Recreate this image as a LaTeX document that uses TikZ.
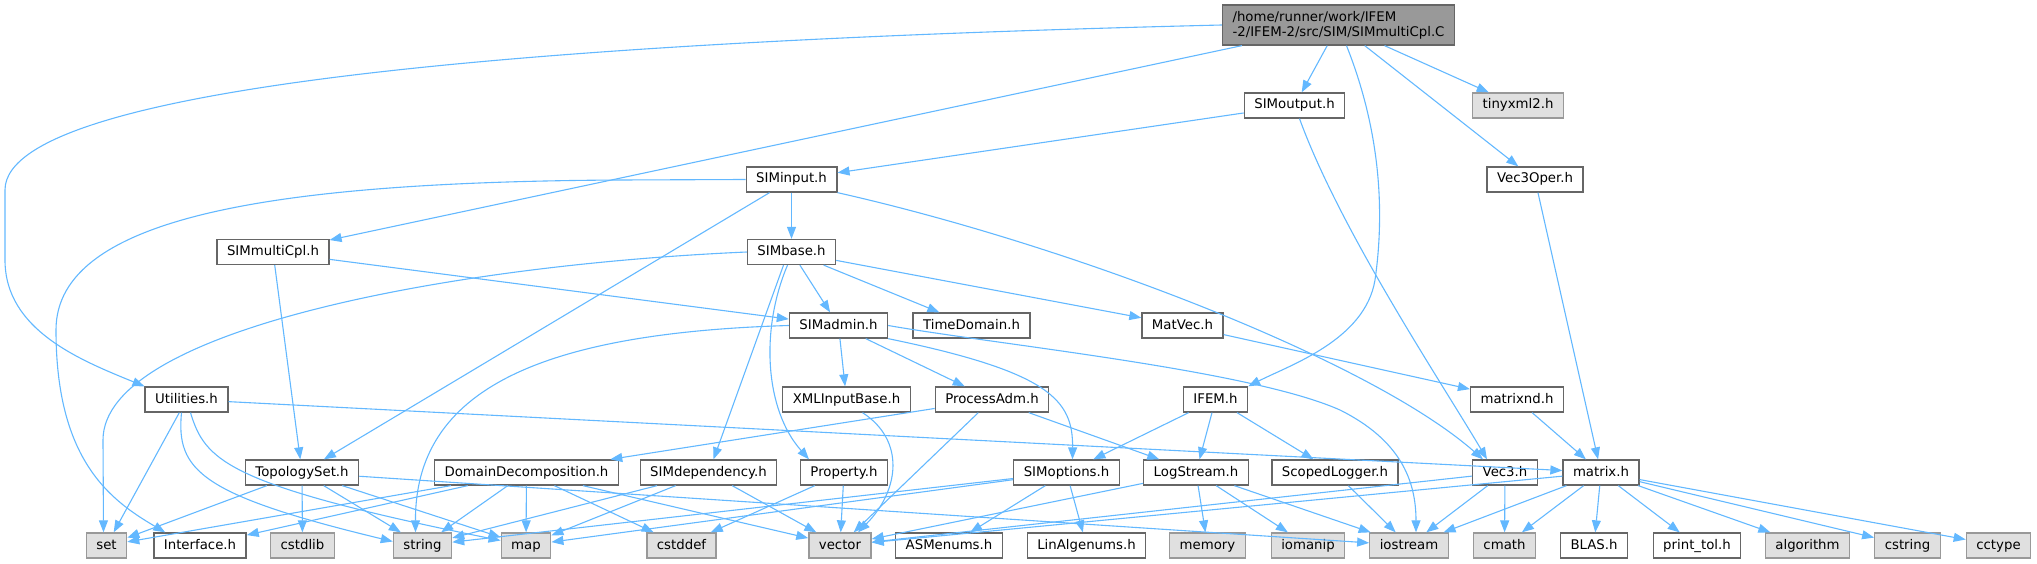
\documentclass[tikz,border=0pt]{standalone}
\usepackage{fontspec}
\setmainfont{DejaVu Sans}
\usetikzlibrary{arrows.meta}
\definecolor{edgeblue}{HTML}{63B8FF}
\definecolor{boxline}{HTML}{666666}
\definecolor{extline}{HTML}{999999}
\definecolor{extfill}{HTML}{E0E0E0}
\definecolor{mainfill}{HTML}{999999}
\tikzstyle{header}=[rectangle,draw=boxline,fill=white,line width=1.3pt,minimum height=25pt,inner xsep=10pt,inner ysep=0pt,text height=10pt,text depth=3pt,font=\fontsize{13.3}{16}\selectfont]
\tikzstyle{sysheader}=[header,draw=extline,fill=extfill]
\tikzstyle{mainfile}=[rectangle,draw=boxline,fill=mainfill,line width=1.3pt,minimum height=40pt,inner xsep=10pt,inner ysep=4pt,align=left,font=\fontsize{13.3}{15}\selectfont]
\tikzstyle{depedge}=[draw=edgeblue,line width=1.1pt,-{Triangle[length=12pt,width=9pt]}]

\begin{document}
\begin{tikzpicture}[x=1pt,y=-1pt]
    \useasboundingbox (0,0) rectangle (2037,564);

    % the file itself
    \node[mainfile] (title) at (1338.5,25) {/home/runner/work/IFEM\\-2/IFEM-2/src/SIM/SIMmultiCpl.C};

    % project headers
    \foreach \pos/ \name/ \lbl in {{(1294.5,105.5)/simoutput/SIMoutput.h}, {(791.5,179.5)/siminput/SIMinput.h},
        {(1535,179.5)/vecoper/Vec3Oper.h}, {(273,252)/simmulticpl/SIMmultiCpl.h}, {(791.5,252)/simbase/SIMbase.h},
        {(838.5,325.5)/simadmin/SIMadmin.h}, {(971.5,325.5)/timedomain/TimeDomain.h}, {(1182.5,325.5)/matvec/MatVec.h},
        {(186.5,399.5)/utilities/Utilities.h}, {(846.5,399.5)/xmlinputbase/XMLInputBase.h},
        {(992,399.5)/processadm/ProcessAdm.h}, {(1215.5,399.5)/ifem/IFEM.h}, {(1517,399.5)/matrixnd/matrixnd.h},
        {(302,472.5)/topologyset/TopologySet.h}, {(526.5,472.5)/domaindecomp/DomainDecomposition.h},
        {(708.5,472.5)/simdependency/SIMdependency.h}, {(844,472.5)/property/Property.h},
        {(1066.5,472.5)/simoptions/SIMoptions.h}, {(1196,472.5)/logstream/LogStream.h},
        {(1335,472.5)/scopedlogger/ScopedLogger.h}, {(1505,472.5)/vecthree/Vec3.h}, {(1601,472.5)/matrix/matrix.h},
        {(200,545.5)/interface/Interface.h}, {(949,545.5)/asmenums/ASMenums.h}, {(1086.5,545.5)/linalgenums/LinAlgenums.h},
        {(1594,545.5)/blas/BLAS.h}, {(1697,545.5)/printtol/print\_tol.h}}
        \node[header] (\name) at \pos {\lbl};

    % system headers
    \foreach \pos/ \name/ \lbl in {{(1518,105.5)/tinyxml/tinyxml2.h}, {(106.5,545.5)/set/set}, {(302.5,545.5)/cstdlib/cstdlib},
        {(422.5,545.5)/string/string}, {(526,545.5)/map/map}, {(681.5,545.5)/cstddef/cstddef}, {(840,545.5)/vector/vector},
        {(1207.5,545.5)/memory/memory}, {(1308,545.5)/iomanip/iomanip}, {(1409,545.5)/iostream/iostream},
        {(1504.5,545.5)/cmath/cmath}, {(1807.5,545.5)/algorithm/algorithm}, {(1907.5,545.5)/cstring/cstring},
        {(1998.5,545.5)/cctype/cctype}}
        \node[sysheader] (\name) at \pos {\lbl};

    % straight includes
    \foreach \source/ \dest in {title/simmulticpl, title/simoutput, title/vecoper, title/tinyxml,
        simoutput/siminput, siminput/simbase, siminput/topologyset,
        vecoper/matrix, simmulticpl/topologyset, simmulticpl/simadmin,
        simbase/simadmin, simbase/timedomain, simbase/matvec,
        simadmin/xmlinputbase, simadmin/processadm, matvec/matrixnd, matrixnd/matrix,
        processadm/domaindecomp, processadm/vector, processadm/logstream,
        ifem/simoptions, ifem/logstream, ifem/scopedlogger, utilities/set, utilities/matrix,
        topologyset/set, topologyset/cstdlib, topologyset/string, topologyset/map, topologyset/iostream,
        domaindecomp/set, domaindecomp/interface, domaindecomp/string, domaindecomp/map,
        domaindecomp/cstddef, domaindecomp/vector,
        simdependency/string, simdependency/map, simdependency/vector, property/cstddef, property/vector,
        simoptions/string, simoptions/map, simoptions/asmenums, simoptions/linalgenums,
        logstream/vector, logstream/memory, logstream/iomanip, logstream/iostream, scopedlogger/iostream,
        vecthree/vector, vecthree/iostream, vecthree/cmath,
        matrix/vector, matrix/iostream, matrix/cmath, matrix/blas, matrix/printtol,
        matrix/algorithm, matrix/cstring, matrix/cctype}
        \path[depedge] (\source) -- (\dest);

    % curved includes
    \path[depedge] (title.west) .. controls (600,40) and (5,80) .. (5,190) -- (5,260)
        .. controls (5,330) and (80,360) .. (utilities.north west);
    \path[depedge] ([xshift=8pt]title.south) .. controls (1380,130) and (1385,210) .. (1375,280)
        .. controls (1365,340) and (1290,365) .. (ifem.north east);
    \path[depedge] ([xshift=5pt]simoutput.south) .. controls (1340,230) and (1440,380) .. ([xshift=-18pt]vecthree.north);
    \path[depedge] (siminput.south east) .. controls (1070,245) and (1370,360) .. ([xshift=-22pt]vecthree.north);
    \path[depedge] (siminput.west) -- (620,180) .. controls (280,182) and (56,215) .. (56,330)
        .. controls (56,460) and (110,500) .. ([xshift=12pt]interface.north west);
    \path[depedge] (simbase.west) .. controls (450,265) and (103,330) .. (103,440) -- ([xshift=-3pt]set.north);
    \path[depedge] ([xshift=-8pt]simbase.south) -- ([xshift=5pt]simdependency.north);
    \path[depedge] ([xshift=-4pt]simbase.south) .. controls (760,330) and (765,410) .. ([xshift=-35pt]property.north);
    \path[depedge] (simadmin.west) .. controls (540,333) and (415,390) .. ([xshift=-7pt]string.north);
    \path[depedge] (simadmin.south east) .. controls (1050,372) and (1073,400) .. ([xshift=6pt]simoptions.north);
    \path[depedge] (simadmin.east) .. controls (1000,345) and (1250,370) .. (1340,410)
        .. controls (1400,440) and (1416,480) .. ([xshift=7pt]iostream.north);
    \path[depedge] ([xshift=16pt]xmlinputbase.south) .. controls (905,440) and (900,490) .. ([xshift=18pt]vector.north);
    \path[depedge] ([xshift=-5pt]utilities.south) .. controls (176,470) and (200,495) .. ([yshift=4pt]string.west);
    \path[depedge] ([xshift=4pt]utilities.south) .. controls (205,460) and (225,485) .. ([yshift=5pt]map.west);
\end{tikzpicture}
\end{document}
